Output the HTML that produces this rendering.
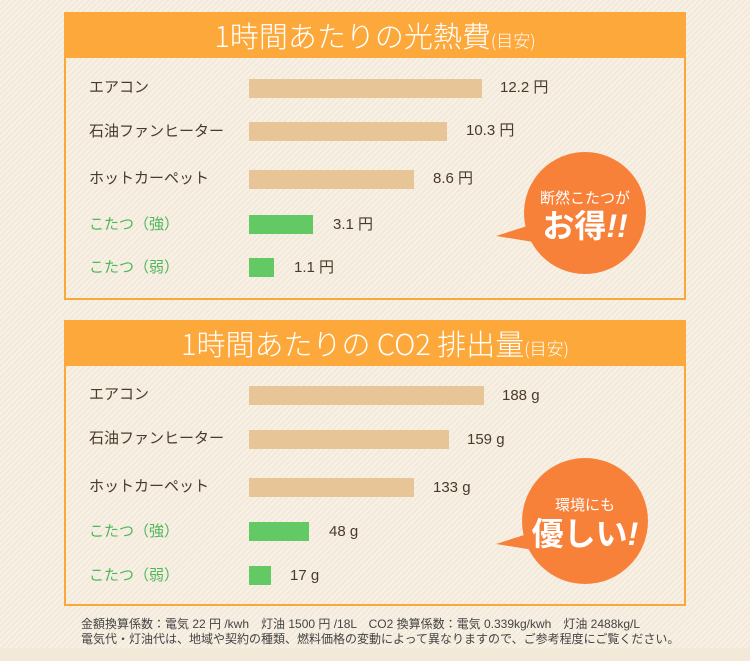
<!DOCTYPE html>
<html><head><meta charset="utf-8"><style>
body{margin:0;width:750px;height:661px;position:relative;overflow:hidden;font-family:"Liberation Sans","Noto Sans CJK JP",sans-serif;
background:repeating-linear-gradient(135deg,#f8f1e6 0 2px,#f3e9da 2px 4px);}
.a{position:absolute}
.panel{position:absolute;left:64px;width:618px;border:2px solid #f9a93a;border-top:none}
.hd{position:absolute;left:64px;width:622px;height:46px;background:#fca83a;color:#fff;font-size:29px;text-align:center;line-height:46px;font-family:"Noto Sans CJK JP","Liberation Sans",sans-serif;font-weight:300}
.hd small{font-size:17px}
.lb{position:absolute;left:89px;font-size:15px;color:#4a3a2a;line-height:20px}
.g{color:#4cb85a}
.bar{position:absolute;left:249px;height:19px;background:#e8c597}
.bar.gr{background:#62c964}
.v{position:absolute;font-size:15px;color:#4a3a2a;line-height:20px}
.bub{position:absolute;border-radius:50%;background:#f8813a;color:#fff;text-align:center}
.tail{position:absolute;width:0;height:0;border-top:16px solid transparent;border-bottom:8px solid transparent;border-right:50px solid #f8813a}
.foot{position:absolute;left:81px;font-size:12px;color:#444;line-height:15px}
</style></head><body>
<div class="a" style="left:0;top:648px;width:750px;height:13px;background:#f3e9d9"></div>

<div class="hd" style="top:12px">1時間あたりの光熱費<small>(目安)</small></div>
<div class="panel" style="top:58px;height:240px"></div>
<div class="lb" style="top:78px">エアコン</div><div class="bar" style="top:79px;width:233px"></div><div class="v" style="left:500px;top:78px">12.2 円</div>
<div class="lb" style="top:122px">石油ファンヒーター</div><div class="bar" style="top:122px;width:198px"></div><div class="v" style="left:466px;top:121px">10.3 円</div>
<div class="lb" style="top:169px">ホットカーペット</div><div class="bar" style="top:170px;width:165px"></div><div class="v" style="left:433px;top:169px">8.6 円</div>
<div class="lb g" style="top:215px">こたつ（強）</div><div class="bar gr" style="top:215px;width:64px"></div><div class="v" style="left:333px;top:215px">3.1 円</div>
<div class="lb g" style="top:258px">こたつ（弱）</div><div class="bar gr" style="top:258px;width:25px"></div><div class="v" style="left:294px;top:258px">1.1 円</div>
<div class="tail" style="left:496px;top:220px"></div>
<div class="bub" style="left:524px;top:152px;width:122px;height:122px"><div style="margin-top:35px;font-size:15px">断然こたつが</div><div style="font-size:32px;font-weight:bold;line-height:36px">お得<i>!!</i></div></div>

<div class="hd" style="top:320px">1時間あたりの CO2 排出量<small>(目安)</small></div>
<div class="panel" style="top:366px;height:238px"></div>
<div class="lb" style="top:385px">エアコン</div><div class="bar" style="top:386px;width:235px"></div><div class="v" style="left:502px;top:386px">188 g</div>
<div class="lb" style="top:429px">石油ファンヒーター</div><div class="bar" style="top:430px;width:200px"></div><div class="v" style="left:467px;top:430px">159 g</div>
<div class="lb" style="top:477px">ホットカーペット</div><div class="bar" style="top:478px;width:165px"></div><div class="v" style="left:433px;top:478px">133 g</div>
<div class="lb g" style="top:522px">こたつ（強）</div><div class="bar gr" style="top:522px;width:60px"></div><div class="v" style="left:329px;top:522px">48 g</div>
<div class="lb g" style="top:566px">こたつ（弱）</div><div class="bar gr" style="top:566px;width:22px"></div><div class="v" style="left:290px;top:566px">17 g</div>
<div class="tail" style="left:496px;top:528px"></div>
<div class="bub" style="left:522px;top:458px;width:126px;height:126px"><div style="margin-top:36px;font-size:15px">環境にも</div><div style="font-size:32px;font-weight:bold;line-height:38px">優しい<i>!</i></div></div>

<div class="foot" style="top:617px">金額換算係数：電気 22 円 /kwh　灯油 1500 円 /18L　CO2 換算係数：電気 0.339kg/kwh　灯油 2488kg/L</div>
<div class="foot" style="top:632px">電気代・灯油代は、地域や契約の種類、燃料価格の変動によって異なりますので、ご参考程度にご覧ください。</div>
</body></html>
